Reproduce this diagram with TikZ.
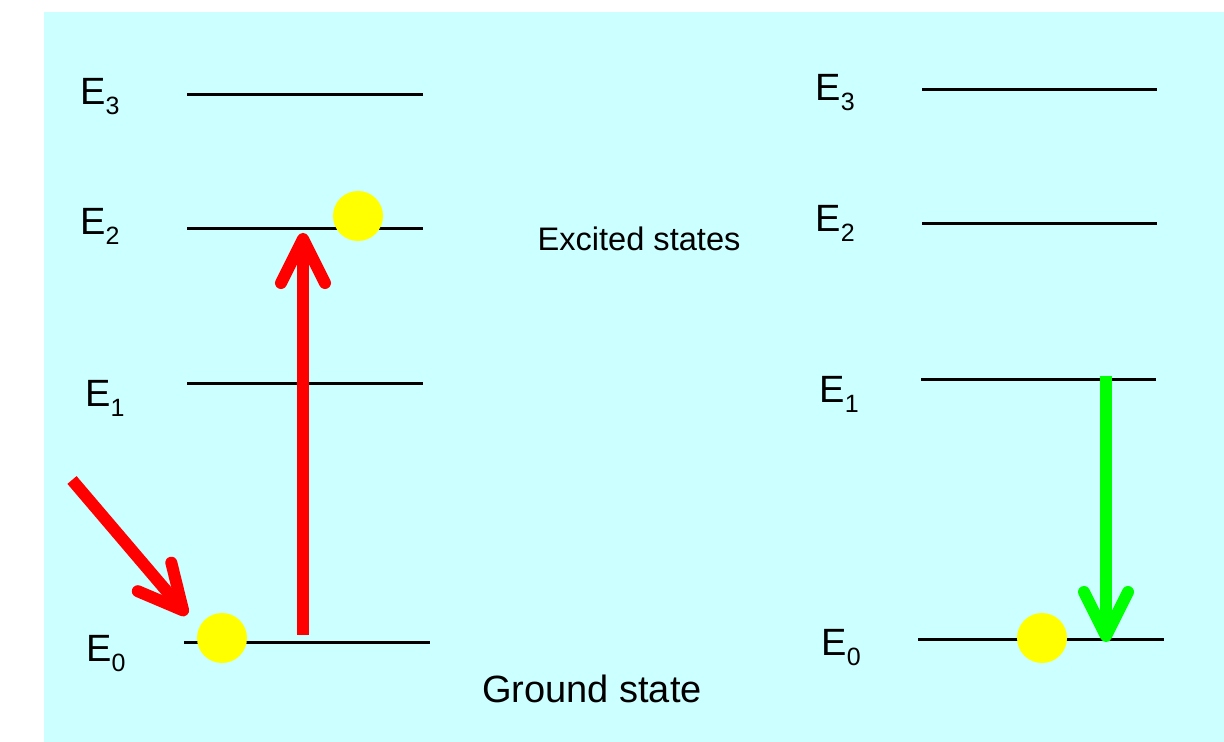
\documentclass[tikz,border=0pt]{standalone}
\usepackage{fontspec}
\setmainfont{Liberation Sans}
\usepackage{xcolor}
\usetikzlibrary{arrows.meta}
\definecolor{bgcyan}{HTML}{CCFFFF}
\definecolor{photonred}{HTML}{FF0000}
\definecolor{emitgreen}{HTML}{00FF00}
\definecolor{electron}{HTML}{FFFF00}
\newcommand{\elevel}[1]{\fontsize{19}{19}\selectfont E\raisebox{-5pt}{\fontsize{12.5}{12.5}\selectfont #1}}

\begin{document}
\begin{tikzpicture}[x=0.5pt,y=-0.5pt,
  level/.style={line width=1.5pt},
  lbl/.style={anchor=base west,inner sep=0pt},
  ball/.style={circle,fill=electron,minimum size=25pt,inner sep=0pt},
  photon/.style={line width=6pt,-{Straight Barb[round,length=22pt,width=22pt]}}]
\useasboundingbox (0,0) rectangle (1224,742);
\fill[bgcyan] (44,12) rectangle (1224,742);
% absorption side
\node[lbl] at (80,105) (la3) {\elevel{3}};
\node[lbl] at (80,235) (la2) {\elevel{2}};
\node[lbl] at (85,407) (la1) {\elevel{1}};
\node[lbl] at (86,661) (la0) {\elevel{0}};
\coordinate (a3l) at (187,95);  \coordinate (a3r) at (423,95);
\coordinate (a2l) at (187,229); \coordinate (a2r) at (423,229);
\coordinate (a1l) at (187,384); \coordinate (a1r) at (423,384);
\coordinate (a0l) at (184,642); \coordinate (a0r) at (430,642);
\draw[level] (a3l)--(a3r);
\draw[level] (a2l)--(a2r);
\draw[level] (a1l)--(a1r);
\draw[level] (a0l)--(a0r);
\node[ball] at (358,216) (up) {};
\node[ball] at (222,638) (down) {};
\coordinate (light) at (72,480);
\coordinate (hit) at (187,615);
\coordinate (pumpfrom) at (303,635);
\coordinate (pumpto) at (303,233);
\draw[photon,photonred] (light)--(hit);
\draw[photon,photonred] (pumpfrom)--(pumpto);
% emission side
\node[lbl] at (815,101) (lb3) {\elevel{3}};
\node[lbl] at (815,232) (lb2) {\elevel{2}};
\node[lbl] at (819,403) (lb1) {\elevel{1}};
\node[lbl] at (821,655) (lb0) {\elevel{0}};
\coordinate (b3l) at (922,90);  \coordinate (b3r) at (1157,90);
\coordinate (b2l) at (922,224); \coordinate (b2r) at (1157,224);
\coordinate (b1l) at (921,380); \coordinate (b1r) at (1156,380);
\coordinate (b0l) at (918,639); \coordinate (b0r) at (1164,639);
\draw[level] (b3l)--(b3r);
\draw[level] (b2l)--(b2r);
\draw[level] (b1l)--(b1r);
\draw[level] (b0l)--(b0r);
\node[ball] at (1042,638) (rest) {};
\coordinate (emitfrom) at (1106,376);
\coordinate (emitto) at (1106,642);
\draw[photon,emitgreen] (emitfrom)--(emitto);
% captions
\node[anchor=base,inner sep=0pt,font=\fontsize{16.3}{16.3}\selectfont] at (639,251) (exc) {Excited states};
\node[anchor=base,inner sep=0pt,font=\fontsize{19}{19}\selectfont] at (592,702) (gnd) {Ground state};
\end{tikzpicture}
\end{document}
